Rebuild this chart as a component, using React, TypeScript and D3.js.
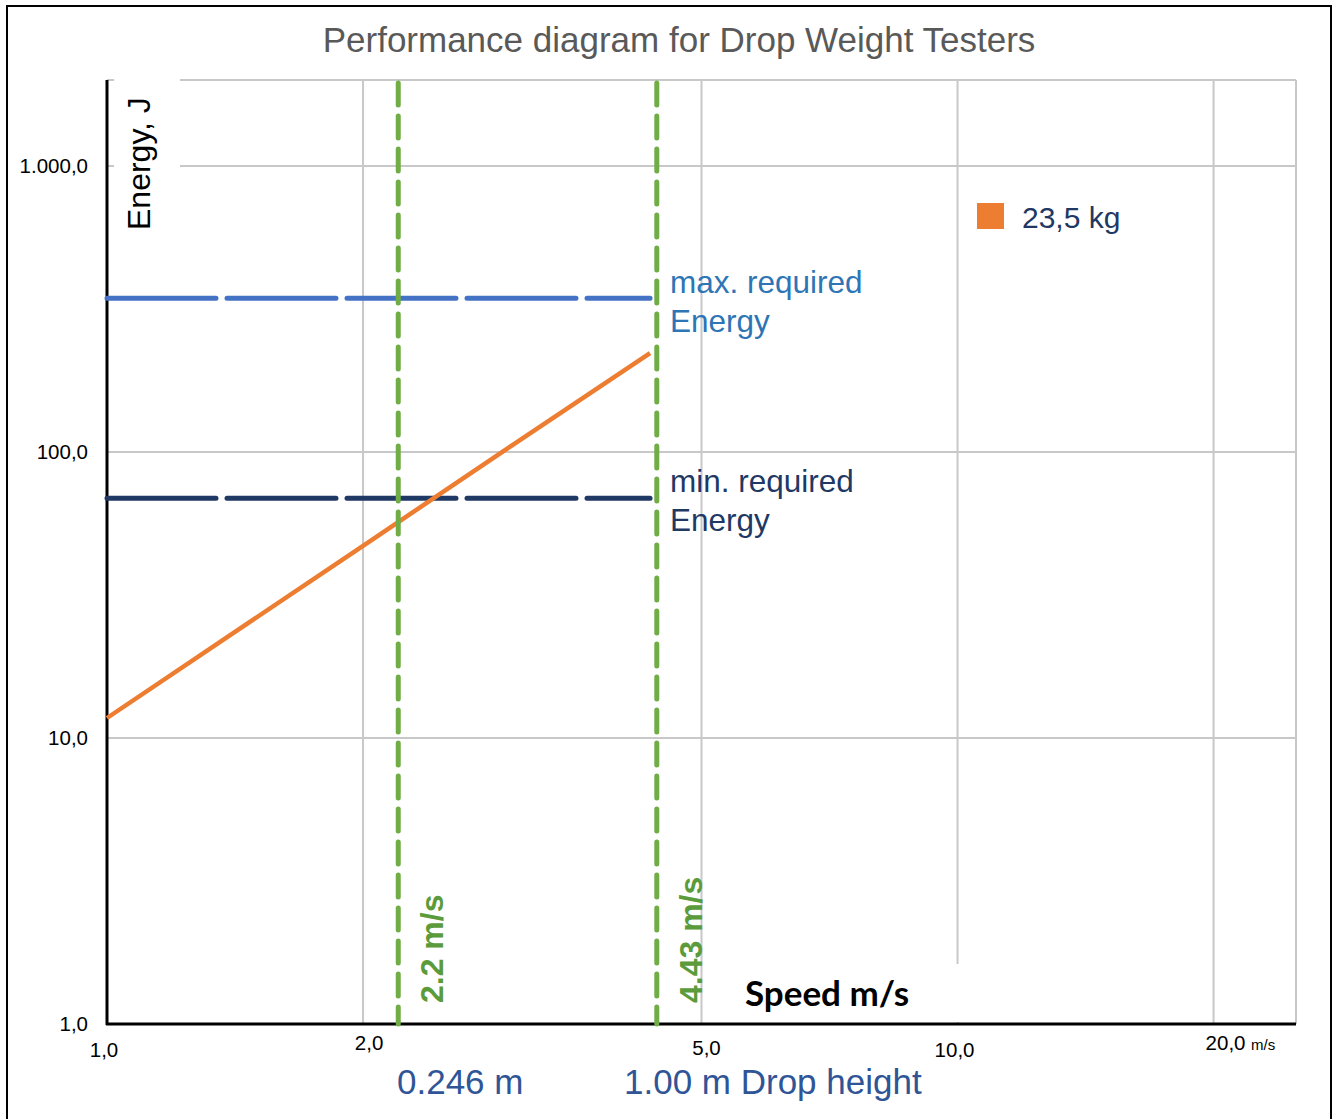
import React from "react";
import * as d3 from "d3";

const W = 1334;
const H = 1119;

// Data
const xTicks = [1, 2, 5, 10, 20];
const xTickLabels = ["1,0", "2,0", "5,0", "10,0", "20,0"];
const yTicks = [1, 10, 100, 1000];
const yTickLabels = ["1,0", "10,0", "100,0", "1.000,0"];
const massLabel = "23,5 kg";
const seriesSpeed = [1, 2, 3, 4.35];
const seriesEnergy = [11.75, 47, 106, 222];
const maxEnergy = 345;
const minEnergy = 69;
const energyLineSpeeds = [1, 4.35];
const markerSpeeds = [2.2, 4.43];
const markerLabels = ["2.2 m/s", "4.43 m/s"];
const heightLabels = ["0.246 m", "1.00 m Drop height"];

const AR = "'Liberation Sans', Arial, sans-serif";

export default function App() {
  const x = d3.scaleLog().domain([1, 25]).range([107, 1296]);
  const y = d3.scaleLog().domain([1, 2000]).range([1024, 80]);
  const pts: [number, number][] = seriesSpeed.map((s, i) => [x(s), y(seriesEnergy[i])]);
  const line = d3.line();
  const gridX = [...xTicks.slice(1), 25];
  const gridY = [...yTicks.slice(1), 2000];
  // small label placement offsets (dx, baseline) as in the original
  const xLabelPos = [
    [-3, 1057],
    [6, 1050],
    [5, 1055],
    [-3, 1057],
    [12, 1050],
  ];

  return (
    <svg width={W} height={H} style={{ display: "block", position: "absolute", left: 0, top: 0 }}>
      <rect x={0} y={0} width={W} height={H} fill="#fff" />
      <rect x={7} y={6} width={1324} height={1120} fill="none" stroke="#000" strokeWidth={2} />
      <text x={679} y={52} textAnchor="middle" fontFamily={AR} fontSize={35} fill="#595959">
        Performance diagram for Drop Weight Testers
      </text>

      {/* grid */}
      {gridX.map((v) => (
        <line key={"gx" + v} x1={x(v)} x2={x(v)} y1={y(2000)} y2={y(1)} stroke="#c8c8c8" strokeWidth={2} />
      ))}
      {gridY.map((v) => (
        <line key={"gy" + v} x1={x(1)} x2={x(25)} y1={y(v)} y2={y(v)} stroke="#c8c8c8" strokeWidth={2} />
      ))}

      {/* white box behind y title */}
      <rect x={114} y={70} width={66} height={175} fill="#fff" />
      {/* white box behind x title */}
      <rect x={735} y={964} width={228} height={58} fill="#fff" />

      {/* axes */}
      <line x1={x(1)} x2={x(1)} y1={y(2000)} y2={y(1) + 1} stroke="#000" strokeWidth={3} />
      <line x1={x(1) - 1} x2={x(25)} y1={y(1)} y2={y(1)} stroke="#000" strokeWidth={3} />

      {/* energy limits */}
      <line x1={x(energyLineSpeeds[0])} x2={x(energyLineSpeeds[1])} y1={y(maxEnergy)} y2={y(maxEnergy)}
        stroke="#4472C4" strokeWidth={5} strokeDasharray="109 11" strokeLinecap="round" />
      <line x1={x(energyLineSpeeds[0])} x2={x(energyLineSpeeds[1])} y1={y(minEnergy)} y2={y(minEnergy)}
        stroke="#1F3864" strokeWidth={5} strokeDasharray="109 11" strokeLinecap="round" />

      {/* series */}
      <path d={line(pts) || ""} fill="none" stroke="#ED7D31" strokeWidth={4.5} />

      {/* markers */}
      {markerSpeeds.map((v) => (
        <line key={"m" + v} x1={x(v)} x2={x(v)} y1={y(2000) + 3} y2={y(1)} stroke="#70AD47" strokeWidth={5}
          strokeDasharray="22 11" strokeLinecap="round" />
      ))}
      {markerSpeeds.map((v, i) => (
        <text key={"ml" + v} transform={`translate(${x(v) + 45},1003) rotate(-90)`} fontFamily={AR}
          fontWeight="bold" fontSize={32} fill="#5B9B3C">
          {markerLabels[i]}
        </text>
      ))}

      <text x={670} y={293} fontFamily={AR} fontSize={31.5} fill="#2E75B6">max. required</text>
      <text x={670} y={332} fontFamily={AR} fontSize={31.5} fill="#2E75B6">Energy</text>
      <text x={670} y={492} fontFamily={AR} fontSize={31.5} fill="#1F3864">min. required</text>
      <text x={670} y={531} fontFamily={AR} fontSize={31.5} fill="#1F3864">Energy</text>

      {/* legend */}
      <rect x={977} y={203} width={27} height={26} fill="#ED7D31" />
      <text x={1022} y={228} fontFamily={AR} fontSize={30} fill="#1F3864">{massLabel}</text>

      {/* axis titles */}
      <text transform="translate(150,230) rotate(-90)" fontFamily={AR} fontSize={32} fill="#000">Energy, J</text>
      <text x={745} y={1006} fontFamily="Lato, sans-serif" fontWeight="bold" fontSize={35} fill="#000">Speed m/s</text>

      {/* tick labels */}
      {yTicks.map((v, i) => (
        <text key={"yl" + v} x={88} y={y(v) + 7} textAnchor="end" fontFamily={AR} fontSize={20.5} fill="#000">
          {yTickLabels[i]}
        </text>
      ))}
      {xTicks.map((v, i) => (
        <text key={"xl" + v} x={x(v) + xLabelPos[i][0]} y={xLabelPos[i][1]} textAnchor="middle" fontFamily={AR}
          fontSize={20.5} fill="#000">
          {xTickLabels[i]}
        </text>
      ))}
      <text x={1251} y={1050} fontFamily={AR} fontSize={15} fill="#000">m/s</text>

      {/* drop height labels */}
      <text x={397} y={1094} fontFamily={AR} fontSize={35} fill="#2F5597">{heightLabels[0]}</text>
      <text x={624} y={1094} fontFamily={AR} fontSize={35} fill="#2F5597">{heightLabels[1]}</text>
    </svg>
  );
}
